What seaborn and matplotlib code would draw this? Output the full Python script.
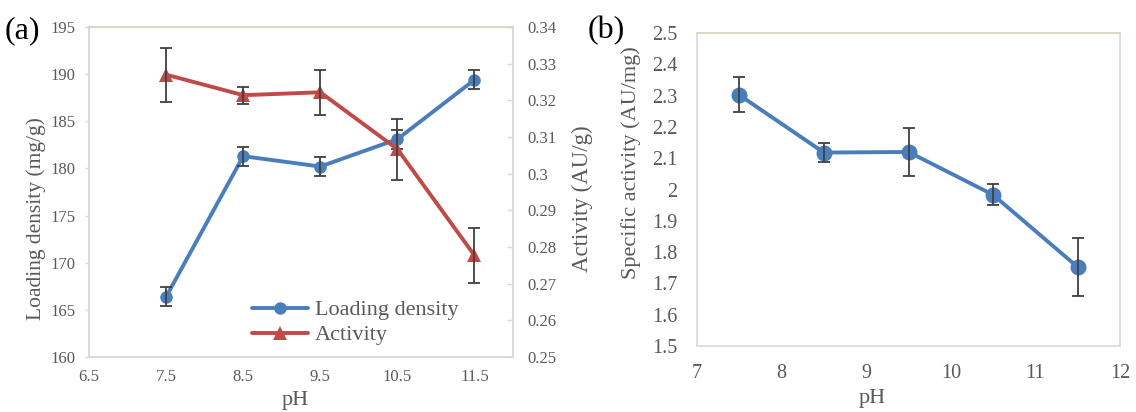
import matplotlib
matplotlib.use("Agg")
import matplotlib.pyplot as plt
import seaborn as sns
import pandas as pd

# pH series shared by both panels
ph = [7.5, 8.5, 9.5, 10.5, 11.5]

# Panel (a): loading density (mg/g) and activity (AU/g)
loading = [166.4, 181.3, 180.2, 183.1, 189.4]
loading_err = [1.0, 1.0, 1.0, 1.0, 1.0]
activity = [0.3270, 0.3214, 0.3222, 0.3067, 0.2777]
activity_err = [0.0074, 0.0023, 0.0062, 0.0083, 0.0076]

# Panel (b): specific activity (AU/mg)
specific = [2.302, 2.118, 2.120, 1.983, 1.752]
specific_err = [0.056, 0.030, 0.076, 0.034, 0.093]

a_xticks = [6.5, 7.5, 8.5, 9.5, 10.5, 11.5]
a_yticks = [160, 165, 170, 175, 180, 185, 190, 195]
a_y2ticks = [0.25, 0.26, 0.27, 0.28, 0.29, 0.30, 0.31, 0.32, 0.33, 0.34]
a_y2labels = ["0.25", "0.26", "0.27", "0.28", "0.29", "0.3", "0.31", "0.32", "0.33", "0.34"]
b_xticks = [7, 8, 9, 10, 11, 12]
b_yticks = [1.5, 1.6, 1.7, 1.8, 1.9, 2.0, 2.1, 2.2, 2.3, 2.4, 2.5]
b_ylabels = ["1.5", "1.6", "1.7", "1.8", "1.9", "2", "2.1", "2.2", "2.3", "2.4", "2.5"]

sns.set_theme(style="white")
plt.rcParams["font.family"] = ["Liberation Serif", "DejaVu Serif"]

TXT = "#595959"
BLUE = "#4a7ebb"
RED = "#be4b48"
ERR = "#404040"
SPINE = "#d9d9d9"
TOP_SPINE = "#ddd8c2"
LABEL_FS = 16


def style_spines(ax):
    for side in ("left", "right", "bottom"):
        ax.spines[side].set_color(SPINE)
        ax.spines[side].set_linewidth(1.2)
    ax.spines["top"].set_color(TOP_SPINE)
    ax.spines["top"].set_linewidth(1.5)


fig = plt.figure(figsize=(11.36, 4.12), dpi=100)
ax1 = fig.add_axes([0.0784, 0.1335, 0.3732, 0.8010])
ax2 = ax1.twinx()
axb = fig.add_axes([0.6135, 0.160, 0.3725, 0.760])

df_a = pd.DataFrame({"pH": ph, "loading": loading, "activity": activity})
df_b = pd.DataFrame({"pH": ph, "specific": specific})

# Loading density (left axis)
sns.lineplot(data=df_a, x="pH", y="loading", ax=ax1, color=BLUE, lw=2.8,
             marker="o", markersize=9, markeredgewidth=0, label="Loading density",
             legend=False, zorder=3)
ax1.errorbar(ph, loading, yerr=loading_err, fmt="none", ecolor=ERR,
             elinewidth=1.3, capsize=4, capthick=1.3, zorder=5)

# Activity (right axis)
sns.lineplot(data=df_a, x="pH", y="activity", ax=ax2, color=RED, lw=2.8,
             marker="^", markersize=10, markeredgewidth=0, label="Activity",
             legend=False, zorder=3)
ax2.errorbar(ph, activity, yerr=activity_err, fmt="none", ecolor=ERR,
             elinewidth=1.3, capsize=4, capthick=1.3, zorder=5)

ax1.set_xlim(6.5, 12.0)
ax1.set_ylim(160, 195)
ax2.set_ylim(0.25, 0.34)
ax1.set_xticks(a_xticks)
ax1.set_xticklabels([str(v) for v in a_xticks])
ax1.set_yticks(a_yticks)
ax2.set_yticks(a_y2ticks)
ax2.set_yticklabels(a_y2labels)

ax1.set_xlabel("pH", fontsize=LABEL_FS, color=TXT)
ax1.set_ylabel("Loading density (mg/g)", fontsize=15.5, color=TXT)
ax2.set_ylabel("Activity (AU/g)", fontsize=16.5, color=TXT)
ax1.xaxis.set_label_coords(0.486, -0.133)
ax1.yaxis.set_label_coords(-0.125, 0.42)
ax2.yaxis.set_label_coords(1.163, 0.479)
for lab in (ax1.xaxis.label, ax1.yaxis.label, ax2.yaxis.label):
    lab.set_va("center")

ax1.tick_params(axis="x", labelsize=12, colors=TXT, direction="in",
                length=4, width=1, color=SPINE, pad=9)
ax1.tick_params(axis="y", labelsize=12, colors=TXT, direction="out",
                length=3, width=1, color=SPINE, pad=7)
ax2.tick_params(axis="y", labelsize=12, colors=TXT, direction="in",
                length=4, width=1, color=SPINE, pad=10)

style_spines(ax1)
style_spines(ax2)
ax2.patch.set_visible(False)

handles = [ax1.get_lines()[0], ax2.get_lines()[0]]
leg = ax1.legend(handles, ["Loading density", "Activity"], loc="lower left",
                 bbox_to_anchor=(0.385, 0.035), frameon=False, fontsize=16,
                 handlelength=2.5, handletextpad=0.3, labelspacing=0.2,
                 borderaxespad=0, borderpad=0)
for t in leg.get_texts():
    t.set_color(TXT)

# Panel (b)
sns.lineplot(data=df_b, x="pH", y="specific", ax=axb, color=BLUE, lw=2.8,
             marker="o", markersize=11.5, markeredgewidth=0, legend=False, zorder=3)
axb.errorbar(ph, specific, yerr=specific_err, fmt="none", ecolor=ERR,
             elinewidth=1.3, capsize=4.3, capthick=1.3, zorder=5)
axb.set_xlim(7, 12)
axb.set_ylim(1.5, 2.5)
axb.set_xticks(b_xticks)
axb.set_yticks(b_yticks)
axb.set_yticklabels(b_ylabels)
axb.set_xlabel("pH", fontsize=LABEL_FS, color=TXT)
axb.set_ylabel("Specific activity (AU/mg)", fontsize=LABEL_FS, color=TXT)
axb.xaxis.set_label_coords(0.414, -0.168)
axb.yaxis.set_label_coords(-0.156, 0.585)
axb.xaxis.label.set_va("center")
axb.yaxis.label.set_va("center")
axb.tick_params(axis="x", labelsize=14.5, colors=TXT, length=0, pad=13)
axb.tick_params(axis="y", labelsize=14.5, colors=TXT, length=0, pad=14)
style_spines(axb)

# Panel letters
fig.text(0.004, 0.925, "(a)", fontsize=23, color="black", va="center", ha="left")
fig.text(0.517, 0.925, "(b)", fontsize=23, color="black", va="center", ha="left")

fig.savefig("out.png", dpi=100)
